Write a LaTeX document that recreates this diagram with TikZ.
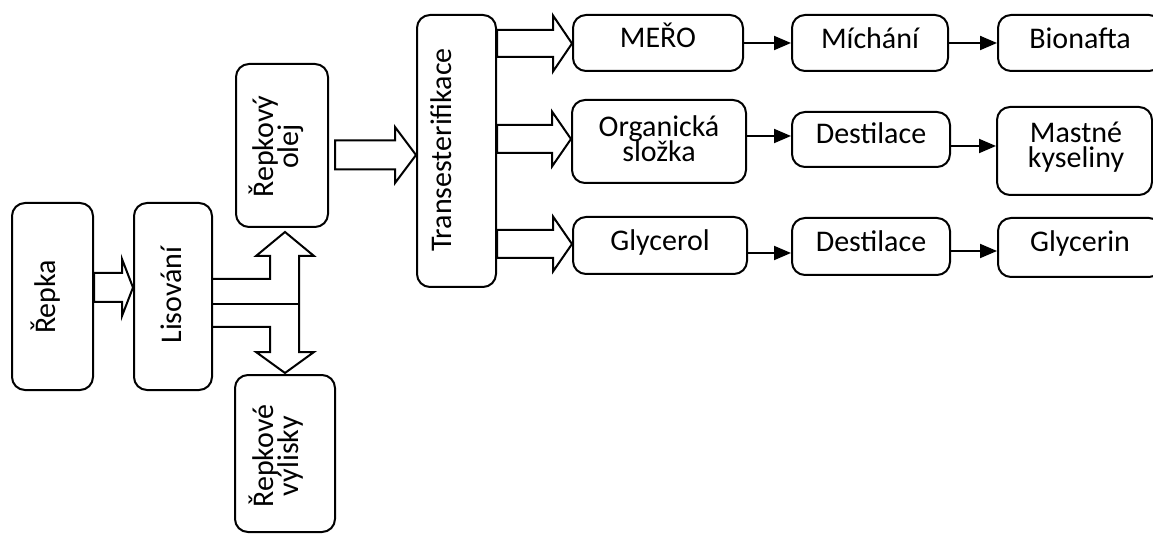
\documentclass[tikz,border=0pt]{standalone}
\usepackage{fontspec}
\setmainfont{Carlito}
\usetikzlibrary{arrows.meta,calc}

% label font: fixed 25pt line pitch regardless of accents
\newcommand\lblfont{\fontsize{30}{25}\selectfont\lineskiplimit=-100pt\relax}

% hollow block arrow: tail point, tip point, shaft half-width, head half-width, head length
\newcommand\hollowarrow[5]{%
  \draw[blockarrow] let \p1=#1, \p2=#2 in
    (\x1,\y2+#3pt) -- (\x2-#5pt,\y2+#3pt) -- (\x2-#5pt,\y2+#4pt) -- (\p2)
    -- (\x2-#5pt,\y2-#4pt) -- (\x2-#5pt,\y2-#3pt) -- (\x1,\y2-#3pt) -- cycle;}

\begin{document}
\begin{tikzpicture}[x=1pt,y=-1pt,
  box/.style={draw, line width=2pt, rounded corners=13pt, inner sep=0pt},
  txt/.style={inner sep=0pt, align=center, anchor=base, font=\lblfont},
  uptxt/.style={txt, rotate=90},
  blockarrow/.style={draw, line width=2pt, line join=miter},
  flow/.style={draw, line width=2pt, -{Triangle[length=17pt,width=14pt]}}]
\useasboundingbox (0,0) rectangle (1153,534);
\clip (0,0) rectangle (1153,534);

% process boxes
\node[box, minimum width=81, minimum height=187] (repka) at (52.5,296.5) {};
\node[box, minimum width=78, minimum height=187] (lis) at (173,296.5) {};
\node[box, minimum width=92, minimum height=163] (olej) at (282,145.5) {};
\node[box, minimum width=100, minimum height=157] (vylisky) at (285,453.5) {};
\node[box, minimum width=79, minimum height=272] (trans) at (456.5,151) {};
\node[box, minimum width=170, minimum height=56] (mero) at (658,43) {};
\node[box, minimum width=174, minimum height=83] (org) at (659,141.5) {};
\node[box, minimum width=174, minimum height=57] (glyc) at (660,245.5) {};
\node[box, minimum width=156, minimum height=56] (mich) at (870,43) {};
\node[box, minimum width=158, minimum height=55] (dest1) at (871,139.5) {};
\node[box, minimum width=158, minimum height=57] (dest2) at (871,246.5) {};
\node[box, minimum width=164, minimum height=56] (bion) at (1080,43) {};
\node[box, minimum width=155, minimum height=88] (mastne) at (1074.5,151) {};
\node[box, minimum width=164, minimum height=59] (glycerin) at (1080,247.5) {};

% labels (base = baseline of the last line)
\node[uptxt] (t-repka) at (55,297) {Řepka};
\node[uptxt] (t-lis) at (181,295) {Lisování};
\node[uptxt] (t-olej) at (298,146.5) {Řepkový\\olej};
\node[uptxt] (t-vylisky) at (298,456) {Řepkové\\výlisky};
\node[uptxt] (t-trans) at (451,150) {Transesterifikace};
\node[txt] (t-mero) at (658,48) {MEŘO};
\node[txt] (t-org) at (659,162) {Organická\\složka};
\node[txt] (t-glyc) at (660,251) {Glycerol};
\node[txt] (t-mich) at (870,49) {Míchání};
\node[txt] (t-dest1) at (871,144) {Destilace};
\node[txt] (t-dest2) at (871,252) {Destilace};
\node[txt] (t-bion) at (1080,49) {Bionafta};
\node[txt] (t-mastne) at (1076,168) {Mastné\\kyseliny};
\node[txt] (t-glycerin) at (1080,252) {Glycerin};

% hollow block arrows
\hollowarrow{(repka.east)}{(lis.west |- 0,287.5)}{14.5}{28.5}{11}
\hollowarrow{($(olej.east)+(6,0)$)}{(trans.west |- 0,155)}{14.5}{28}{21}
\hollowarrow{(trans.east)}{(mero.west |- 0,43.5)}{13.5}{28}{19}
\hollowarrow{(trans.east)}{(org.west |- 0,139)}{14}{27.5}{19}
\hollowarrow{(trans.east)}{(glyc.west |- 0,244)}{14}{27.5}{19}

% split arrow from the press: oil up, cake down
\draw[blockarrow] (lis.east |- 0,279) -- (270,279) -- (270,256) -- (256,256)
  -- (285,232) -- (314,256) -- (299,256) -- (299,352) -- (314,352)
  -- (285,373) -- (256,352) -- (270,352) -- (270,327) -- (lis.east |- 0,327);
\draw[blockarrow] (lis.east |- 0,304) -- (299,304);

% process flow arrows
\draw[flow] (mero.east) -- (mich.west);
\draw[flow] (mich.east) -- (bion.west);
\draw[flow] (org.east |- 0,136) -- (dest1.west |- 0,136);
\draw[flow] (dest1.east |- 0,146) -- (mastne.west |- 0,146);
\draw[flow] (glyc.east |- 0,253) -- (dest2.west |- 0,253);
\draw[flow] (dest2.east |- 0,251) -- (glycerin.west |- 0,251);
\end{tikzpicture}
\end{document}
